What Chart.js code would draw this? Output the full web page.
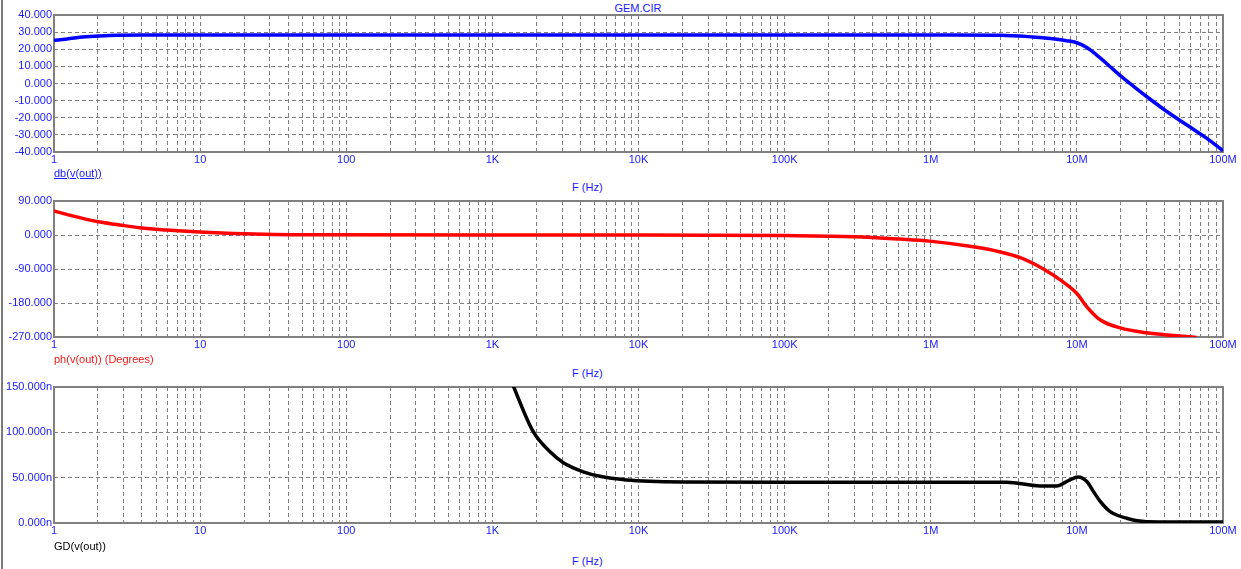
<!DOCTYPE html>
<html>
<head>
<meta charset="utf-8">
<title>GEM.CIR</title>
<script src="https://cdn.jsdelivr.net/npm/chart.js@4.4.1/dist/chart.umd.min.js"></script>
<style>
  body {
    margin: 0;
    width: 1241px;
    height: 569px;
    background: #fff;
    position: relative;
    overflow: hidden;
    font-family: Arial, "Liberation Sans", sans-serif;
    font-size: 11px;
  }
  .panel { position: absolute; left: 0; width: 1241px; }
  .lbl { position: absolute; height: 14px; line-height: 14px; white-space: nowrap; }
  .frame { position: absolute; left: 1px; top: 0; width: 2px; height: 569px; background: #7a7a7a; }
</style>
</head>
<body>
<div class="frame"></div>

<div class="lbl" style="left:538px; width:200px; top:1px; text-align:center; color:#1a1aff;">GEM.CIR</div>

<div class="panel" style="top:0px; height:169px;"><canvas id="magChart"></canvas></div>
<div class="lbl" style="left:54px; top:166px; color:#1a1aff; text-decoration:underline;">db(v(out))</div>
<div class="lbl" style="left:572px; top:180px; color:#1a1aff;">F (Hz)</div>

<div class="panel" style="top:186px; height:168px;"><canvas id="phaseChart"></canvas></div>
<div class="lbl" style="left:54px; top:352px; color:#f01818;">ph(v(out)) (Degrees)</div>
<div class="lbl" style="left:572px; top:366px; color:#1a1aff;">F (Hz)</div>

<div class="panel" style="top:372px; height:168px;"><canvas id="gdChart"></canvas></div>
<div class="lbl" style="left:54px; top:539px; color:#000;">GD(v(out))</div>
<div class="lbl" style="left:572px; top:554px; color:#1a1aff;">F (Hz)</div>

<script>
// values (frequency in Hz)
const freqLabels = ["1", "10", "100", "1K", "10K", "100K", "1M", "10M", "100M"];

const magFreq = [1, 1.2, 1.5, 2, 2.7, 4, 10, 1e6, 3e6, 5e6, 6.6e6, 8.5e6, 1e7, 1.17e7,
  1.45e7, 1.69e7, 1.98e7, 2.43e7, 3e7, 4.1e7, 5.7e7, 7.8e7, 1e8];
const magDb = [25.2, 25.9, 27.0, 27.7, 28.2, 28.3, 28.3, 28.3, 28.2, 27.2, 26.3, 25.0, 23.8, 21.0,
  14.8, 9.8, 4.6, -1.5, -7.6, -16.2, -24.4, -32.2, -39.3];
const dbTicks = [40, 30, 20, 10, 0, -10, -20, -30, -40];

const phaseFreq = [1, 1.22, 1.67, 2.06, 2.67, 3.86, 5.9, 9.9, 16.8, 56, 1000, 1e4, 1e5, 3e5,
  6.2e5, 9.8e5, 1.96e6, 3e6, 4.1e6, 5.9e6, 7.7e6, 1e7, 1.17e7, 1.45e7, 1.98e7, 3e7, 4.57e7, 6.6e7];
const phaseDeg = [63.4, 54.6, 41.4, 34.2, 28, 19.1, 13, 7.7, 4.2, 0.6, 0, -0.1, -1.5, -4.5,
  -10.9, -16.2, -31.3, -45, -60, -90, -119, -155, -190, -225, -246, -259, -266, -271];
const phaseTicks = [90, 0, -90, -180, -270];

const gdFreq = [1.35e3, 1.9e3, 2.48e3, 3.06e3, 4.19e3, 5.45e3, 8.3e3, 1.2e4, 2e4, 1e5, 3.3e6, 5.6e6,
  7.3e6, 8.5e6, 1.02e7, 1.17e7, 1.3e7, 1.45e7, 1.69e7, 2.19e7, 3e7, 1e8];
const gdNs = [156, 101, 78.5, 66.5, 56.5, 51.5, 47.5, 46, 45.3, 45, 45, 40.9,
  40.9, 45.7, 50.8, 45.7, 34.6, 23.5, 12.5, 5.2, 1.5, 1.0];
const gdTicks = [150, 100, 50, 0];

const tickBlue = "#1a1aff";
const gridGray = "#808080";
const tickFont = { family: "Arial, 'Liberation Sans', sans-serif", size: 11 };

// grid lines at 1..9 of every decade
const gridFreqs = [];
for (let d = 0; d < 8; d++) {
  for (let m = 1; m < 10; m++) gridFreqs.push(m * Math.pow(10, d));
}
gridFreqs.push(1e8);

const plotBorder = {
  id: "plotBorder",
  beforeDatasetsDraw(chart) {
    const { ctx, chartArea: a } = chart;
    ctx.save();
    ctx.strokeStyle = gridGray;
    ctx.lineWidth = 2;
    ctx.strokeRect(a.left, a.top, a.right - a.left, a.bottom - a.top);
    ctx.restore();
  }
};

function makePanel(canvasId, xs, ys, color, yTicks, yLabel) {
  return new Chart(document.getElementById(canvasId), {
    type: "line",
    data: {
      datasets: [{
        data: xs.map((x, i) => ({ x: x, y: ys[i] })),
        borderColor: color,
        borderWidth: 3.5,
        pointRadius: 0,
        cubicInterpolationMode: "monotone",
        fill: false,
        clip: 0
      }]
    },
    options: {
      responsive: true,
      maintainAspectRatio: false,
      animation: false,
      layout: { padding: { top: 15, right: 18, left: 0, bottom: 0 } },
      plugins: { legend: { display: false }, tooltip: { enabled: false }, title: { display: false } },
      scales: {
        x: {
          type: "logarithmic",
          min: 1,
          max: 1e8,
          afterBuildTicks: (scale) => {
            scale.ticks = gridFreqs.map(v => ({ value: v }));
          },
          afterFit: (scale) => { scale.height = 17; },
          grid: { color: gridGray, lineWidth: 1, drawTicks: false },
          border: { display: false, dash: [4, 3] },
          ticks: {
            autoSkip: false,
            maxRotation: 0,
            padding: 1,
            color: tickBlue,
            font: tickFont,
            callback: (v) => {
              const k = Math.round(Math.log10(v));
              return Math.abs(v - Math.pow(10, k)) < 1e-9 * v ? freqLabels[k] : "";
            }
          }
        },
        y: {
          min: yTicks[yTicks.length - 1],
          max: yTicks[0],
          afterBuildTicks: (scale) => {
            scale.ticks = yTicks.map(v => ({ value: v }));
          },
          afterFit: (scale) => { scale.width = 54; },
          grid: { color: gridGray, lineWidth: 1, drawTicks: false },
          border: { display: false, dash: [4, 3] },
          ticks: {
            padding: 2,
            color: tickBlue,
            font: tickFont,
            callback: yLabel
          }
        }
      }
    },
    plugins: [plotBorder]
  });
}

let magChart = makePanel("magChart", magFreq, magDb, "#0000ff", dbTicks, v => v.toFixed(3));
let phaseChart = makePanel("phaseChart", phaseFreq, phaseDeg, "#ff0000", phaseTicks, v => v.toFixed(3));
let gdChart = makePanel("gdChart", gdFreq, gdNs, "#000000", gdTicks, v => v.toFixed(3) + "n");
</script>
</body>
</html>
